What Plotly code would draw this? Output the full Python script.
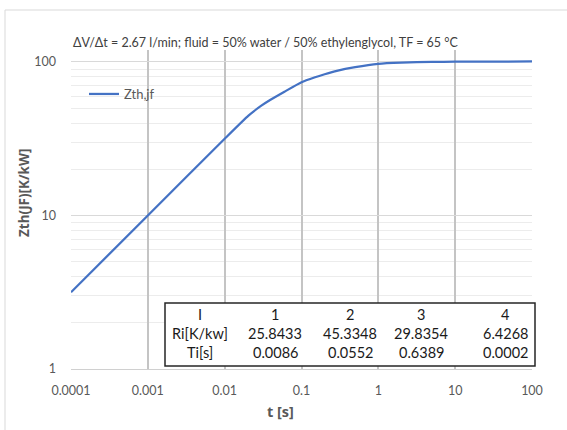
import plotly.graph_objects as go

# ---- data ----
t_s = [0.0001, 0.001, 0.01, 0.0204, 0.03, 0.039, 0.06, 0.1, 0.15, 0.2, 0.288, 0.5, 1, 2, 5, 10, 30, 100]
zth = [3.16, 10.0, 31.6, 44.7, 51.9, 56.5, 64.0, 73.8, 79.5, 83.2, 87.6, 92.6, 97.3, 99.0, 100.1, 100.4, 100.6, 100.8]

x_tickvals = [0.0001, 0.001, 0.01, 0.1, 1, 10, 100]
x_ticktext = ["0.0001", "0.001", "0.01", "0.1", "1", "10", "100"]
y_tickvals = [1, 10, 100]
y_ticktext = ["1", "10", "100"]

table_header = ["I", "1", "2", "3", "4"]
table_ri = ["Ri[K/kw]", "25.8433", "45.3348", "29.8354", "6.4268"]
table_ti = ["Ti[s]", "0.0086", "0.0552", "0.6389", "0.0002"]

title_text = "ΔV/Δt = 2.67 l/min; fluid = 50% water / 50% ethylenglycol, TF = 65 °C"

# ---- layout geometry (pixels) ----
W, H = 567, 430
L, R, T, B = 71, 35, 50, 61
PW, PH = W - L - R, H - T - B


def px(x):
    return (x - L) / PW


def py(y):
    return (H - B - y) / PH


FONT = "Lato"
BOLD_FONT = "Open Sans"
GRAY = "#595959"

fig = go.Figure()
fig.add_trace(go.Scatter(
    x=t_s, y=zth, mode="lines", name="Zth,jf",
    line=dict(color="#4472C4", width=2.25, shape="spline", smoothing=0.5),
))

annotations = []
annotations.append(dict(
    text=title_text, x=px(265), y=py(42), xref="paper", yref="paper",
    showarrow=False, xanchor="center", yanchor="middle",
    font=dict(family=FONT, size=12.5, color="#404040"),
))
annotations.append(dict(
    text="<b>Zth(JF)[K/kW]</b>", x=px(24), y=py(193), xref="paper", yref="paper",
    showarrow=False, textangle=-90, xanchor="center", yanchor="middle",
    font=dict(family=BOLD_FONT, size=13.5, color=GRAY),
))
annotations.append(dict(
    text="<b>t [s]</b>", x=px(280), y=py(411), xref="paper", yref="paper",
    showarrow=False, xanchor="center", yanchor="middle",
    font=dict(family=BOLD_FONT, size=14.5, color=GRAY),
))

col_x = [200, 275, 350, 421, 505]
row_y = [314, 333, 352]
for r, row in zip(row_y, [table_header, table_ri, table_ti]):
    for cx, txt in zip(col_x, row):
        annotations.append(dict(
            text=txt, x=px(cx), y=py(r), xref="paper", yref="paper",
            showarrow=False, xanchor="center", yanchor="middle",
            font=dict(family=FONT, size=14.5, color="#1a1a1a"),
        ))

shapes = [
    dict(type="rect", xref="paper", yref="paper",
         x0=px(5), x1=px(700), y0=py(10), y1=py(600),
         line=dict(color="#d9d9d9", width=1), layer="below"),
    dict(type="rect", xref="paper", yref="paper",
         x0=px(165), x1=px(535), y0=py(303), y1=py(366),
         line=dict(color="#262626", width=1.5), fillcolor="white", layer="above"),
]

fig.update_layout(
    width=W, height=H,
    margin=dict(l=L, r=R, t=T, b=B, pad=0),
    paper_bgcolor="white", plot_bgcolor="white",
    font=dict(family=FONT, color=GRAY),
    showlegend=True,
    legend=dict(x=px(84), y=py(79), xanchor="left", yanchor="top",
                bgcolor="rgba(0,0,0,0)", font=dict(size=13, color=GRAY),
                itemwidth=30, tracegroupgap=0),
    annotations=annotations,
    shapes=shapes,
)

fig.update_xaxes(
    type="log", range=[-4, 2],
    tickvals=x_tickvals, ticktext=x_ticktext,
    showgrid=True, gridcolor="#c4c4c4", gridwidth=1.5,
    showline=True, linecolor="#d0d0d0", linewidth=1,
    ticks="", ticklabelstandoff=10,
    tickfont=dict(size=12.5, color=GRAY, family=FONT),
    zeroline=False,
)
fig.update_yaxes(
    type="log", range=[0, 2.078],
    tickvals=y_tickvals, ticktext=y_ticktext,
    showgrid=True, gridcolor="#d9d9d9", gridwidth=1,
    minor=dict(showgrid=True, gridcolor="#ececec", gridwidth=1, dtick="D1"),
    showline=False, ticks="", ticklabelstandoff=14,
    tickfont=dict(size=12.5, color=GRAY, family=FONT),
    zeroline=False,
)

fig.write_html("out.html", config={"displayModeBar": False},
               post_script="document.body.style.margin='0';")
